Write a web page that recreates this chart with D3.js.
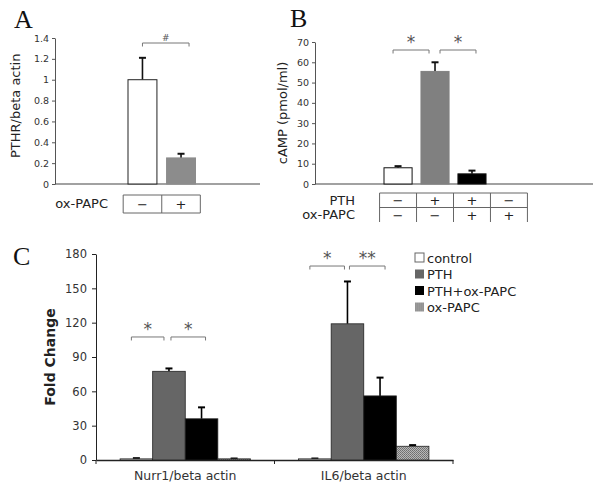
<!DOCTYPE html>
<html>
<head>
<meta charset="utf-8">
<script src="https://cdn.jsdelivr.net/npm/d3@7"></script>
<style>
	body { margin: 0; background: #fff; }
	svg { display: block; font-family: 'DejaVu Sans', Verdana, sans-serif; }
</style>
</head>
<body>
<div id="chart"></div>
<script>
// panel A: PTHR expression
const aConditions = ['ctl', 'ox']
const aOxRow = ['\u2212', '+']
const aValues = [1.0, 0.25]
const aErrors = [0.21, 0.04]
const aTicks = [0, 0.2, 0.4, 0.6, 0.8, 1, 1.2, 1.4]

// panel B: cAMP
const bConditions = ['ctl', 'pth', 'pthOx', 'ox']
const bPthRow = ['\u2212', '+', '+', '\u2212']
const bOxRow = ['\u2212', '\u2212', '+', '+']
const bValues = [8, 55.5, 5, 0]
const bErrors = [0.8, 4.5, 1.6, 0]
const bTicks = [0, 10, 20, 30, 40, 50, 60, 70]

// panel C: fold change
const cGroups = ['Nurr1/beta actin', 'IL6/beta actin']
const cSeries = ['control', 'PTH', 'PTH+ox-PAPC', 'ox-PAPC']
const nurr1Values = [1, 77.5, 36, 1]
const nurr1Errors = [0.6, 2.5, 10, 0.3]
const il6Values = [1, 119, 56, 12]
const il6Errors = [0.3, 37, 16, 1]
const cTicks = [0, 30, 60, 90, 120, 150, 180]

const width = 600
const height = 486

const svg = d3.select('#chart').append('svg').attr('width', width).attr('height', height)

const defs = svg.append('defs')
const pat = defs.append('pattern').attr('id', 'hatch').attr('patternUnits', 'userSpaceOnUse').attr('width', 2).attr('height', 2)
pat.append('rect').attr('width', 2).attr('height', 2).attr('fill', '#b8b8b8')
pat.append('rect').attr('width', 1).attr('height', 1).attr('fill', '#6e6e6e')
pat.append('rect').attr('x', 1).attr('y', 1).attr('width', 1).attr('height', 1).attr('fill', '#7a7a7a')

function panelLetter(x, y, t) {
	svg.append('text').attr('x', x).attr('y', y)
		.style('font-family', "'Liberation Serif', 'DejaVu Serif', serif")
		.style('font-size', '26px').attr('fill', '#111').text(t)
}

function errorBar(g, cx, yTop, yErr, color) {
	g.append('line').attr('x1', cx).attr('x2', cx).attr('y1', yTop).attr('y2', yErr)
		.attr('stroke', color).attr('stroke-width', 1.6)
	g.append('line').attr('x1', cx - 3.5).attr('x2', cx + 3.5).attr('y1', yErr).attr('y2', yErr)
		.attr('stroke', color).attr('stroke-width', 2)
}

function bracket(g, x1, x2, y, label, size) {
	g.append('path')
		.attr('d', `M${x1},${y + 3.5}V${y}H${x2}V${y + 3.5}`)
		.attr('fill', 'none').attr('stroke', '#777').attr('stroke-width', 1)
	g.append('text').attr('x', (x1 + x2) / 2).attr('y', y - 2)
		.attr('text-anchor', 'middle').attr('fill', '#555')
		.style('font-size', size).text(label)
}

function styleAxis(g, color, fontSize) {
	g.select('.domain').attr('stroke', color)
	g.selectAll('.tick line').attr('stroke', color)
	g.selectAll('.tick text').attr('fill', '#333').style('font-size', fontSize).style('font-family', "'DejaVu Sans', Verdana, sans-serif")
}

function tableCells(g, x, cols, rows, top, rowH, topBorder) {
	const step = x.step()
	const half = step / 2
	const left = x(cols[0]) + x.bandwidth() / 2 - half
	const right = x(cols[cols.length - 1]) + x.bandwidth() / 2 + half
	const bottom = top + rowH * rows.length
	if (topBorder) g.append('line').attr('x1', left).attr('x2', right).attr('y1', top).attr('y2', top).attr('stroke', '#666')
	rows.forEach((row, r) => {
		if (r > 0 || !topBorder) {
			g.append('line').attr('x1', left).attr('x2', right).attr('y1', top + r * rowH).attr('y2', top + r * rowH).attr('stroke', '#666')
		}
		cols.forEach((c, i) => {
			g.append('text').attr('x', x(c) + x.bandwidth() / 2).attr('y', top + r * rowH + rowH / 2 + 5)
				.attr('text-anchor', 'middle').attr('fill', '#222').style('font-size', '13px').text(row[i])
		})
	})
	cols.forEach((c, i) => {
		const xe = x(c) + x.bandwidth() / 2 - half
		g.append('line').attr('x1', xe).attr('x2', xe).attr('y1', top).attr('y2', bottom).attr('stroke', '#666')
	})
	g.append('line').attr('x1', right).attr('x2', right).attr('y1', top).attr('y2', bottom).attr('stroke', '#666')
	return { left, right, bottom }
}

// ---------- Panel A ----------
panelLetter(14, 28, 'A')
const gA = svg.append('g')
const yA = d3.scaleLinear().domain([0, 1.4]).range([184, 38])
const xA = d3.scaleBand().domain(aConditions).range([128, 195.5]).paddingInner(0.25).paddingOuter(0)

const yAxisA = gA.append('g').attr('transform', 'translate(55,0)')
	.call(d3.axisLeft(yA).tickValues(aTicks).tickSize(3).tickSizeOuter(0).tickFormat(d3.format('')))
styleAxis(yAxisA, '#555', '9.5px')
gA.append('line').attr('x1', 55).attr('x2', 260).attr('y1', yA(0)).attr('y2', yA(0)).attr('stroke', '#444').attr('stroke-width', 1.2)

const aColors = ['#fff', '#8c8c8c']
aConditions.forEach((c, i) => {
	const x0 = xA(c)
	const cx = x0 + xA.bandwidth() / 2
	errorBar(gA, cx, yA(aValues[i]), yA(aValues[i] + aErrors[i]), '#111')
	gA.append('rect').attr('x', x0).attr('y', yA(aValues[i])).attr('width', xA.bandwidth())
		.attr('height', yA(0) - yA(aValues[i])).attr('fill', aColors[i])
		.attr('stroke', i === 0 ? '#222' : '#8c8c8c').attr('stroke-width', 1)
})
bracket(gA, xA('ctl') + xA.bandwidth() / 2, xA('ox') + xA.bandwidth() / 2 + 8, 43, '#', '9px')

gA.append('text').attr('x', 20).attr('y', yA(0.75)).attr('transform', `rotate(-90,20,${yA(0.75)})`)
	.attr('text-anchor', 'middle').attr('fill', '#222').style('font-size', '13px').text('PTHR/beta actin')

const tA = tableCells(gA, xA, aConditions, [aOxRow], 195, 18, true)
gA.append('line').attr('x1', tA.left).attr('x2', tA.right).attr('y1', tA.bottom).attr('y2', tA.bottom).attr('stroke', '#666')
gA.append('text').attr('x', 108).attr('y', 208).attr('text-anchor', 'end').attr('fill', '#222').style('font-size', '13px').text('ox-PAPC')

// ---------- Panel B ----------
panelLetter(290, 27, 'B')
const gB = svg.append('g')
const yB = d3.scaleLinear().domain([0, 70]).range([184, 42])
const xB = d3.scaleBand().domain(bConditions).range([384, 523]).paddingInner(0.24).paddingOuter(0)

const yAxisB = gB.append('g').attr('transform', 'translate(315,0)')
	.call(d3.axisLeft(yB).tickValues(bTicks).tickSize(3).tickSizeOuter(0))
styleAxis(yAxisB, '#555', '9.5px')
gB.append('line').attr('x1', 315).attr('x2', 593).attr('y1', yB(0)).attr('y2', yB(0)).attr('stroke', '#444').attr('stroke-width', 1.2)

const bColors = ['#fff', '#808080', '#000', '#fff']
bConditions.forEach((c, i) => {
	if (bValues[i] <= 0) return
	const x0 = xB(c)
	const cx = x0 + xB.bandwidth() / 2
	errorBar(gB, cx, yB(bValues[i]), yB(bValues[i] + bErrors[i]), '#111')
	gB.append('rect').attr('x', x0).attr('y', yB(bValues[i])).attr('width', xB.bandwidth())
		.attr('height', yB(0) - yB(bValues[i])).attr('fill', bColors[i])
		.attr('stroke', i === 1 ? '#808080' : '#111').attr('stroke-width', 1)
})
const bcx = (c) => xB(c) + xB.bandwidth() / 2
bracket(gB, bcx('ctl') - 5, bcx('pth') - 6, 50, '*', '17px')
bracket(gB, bcx('pth') + 5, bcx('pthOx') + 4, 50, '*', '17px')

gB.append('text').attr('x', 287).attr('y', yB(35)).attr('transform', `rotate(-90,287,${yB(35)})`)
	.attr('text-anchor', 'middle').attr('fill', '#222').style('font-size', '13px').text('cAMP (pmol/ml)')

tableCells(gB, xB, bConditions, [bPthRow, bOxRow], 193, 14.5, true)
gB.append('text').attr('x', 355).attr('y', 205).attr('text-anchor', 'end').attr('fill', '#222').style('font-size', '13px').text('PTH')
gB.append('text').attr('x', 355).attr('y', 219).attr('text-anchor', 'end').attr('fill', '#222').style('font-size', '13px').text('ox-PAPC')

// ---------- Panel C ----------
panelLetter(13, 265, 'C')
const gC = svg.append('g')
const yC = d3.scaleLinear().domain([0, 180]).range([460, 254])
const x0C = d3.scaleBand().domain(cGroups).range([96, 453]).padding(0)
const x1C = d3.scaleBand().domain(cSeries).range([x0C.bandwidth() * 0.135, x0C.bandwidth() * 0.865]).padding(0)
const cFill = ['#fff', '#666', '#000', 'url(#hatch)']

const yAxisC = gC.append('g').attr('transform', 'translate(96,0)')
	.call(d3.axisLeft(yC).tickValues(cTicks).tickSize(4).tickSizeOuter(0))
styleAxis(yAxisC, '#222', '11.5px')
yAxisC.selectAll('.tick text').attr('x', -9)

const xAxisC = gC.append('g').attr('transform', `translate(0,${yC(0)})`)
	.call(d3.axisBottom(x0C).tickSize(0).tickPadding(11))
styleAxis(xAxisC, '#222', '12.5px')
xAxisC.select('.domain').attr('stroke-width', 1.4)
cGroups.forEach((g, i) => {
	const xe = i === 0 ? x0C(g) : x0C(g) + x0C.bandwidth()
	gC.append('line').attr('x1', xe).attr('x2', xe).attr('y1', yC(0)).attr('y2', yC(0) + 4).attr('stroke', '#222')
})
gC.append('line').attr('x1', x0C(cGroups[1])).attr('x2', x0C(cGroups[1])).attr('y1', yC(0)).attr('y2', yC(0) + 4).attr('stroke', '#222')

const groupData = [
	{ group: cGroups[0], values: nurr1Values, errors: nurr1Errors },
	{ group: cGroups[1], values: il6Values, errors: il6Errors }
]
groupData.forEach((gd) => {
	cSeries.forEach((s, i) => {
		const x0 = x0C(gd.group) + x1C(s)
		const cx = x0 + x1C.bandwidth() / 2
		errorBar(gC, cx, yC(gd.values[i]), yC(gd.values[i] + gd.errors[i]), '#000')
		gC.append('rect').attr('x', x0).attr('y', yC(gd.values[i])).attr('width', x1C.bandwidth())
			.attr('height', yC(0) - yC(gd.values[i])).attr('fill', cFill[i])
			.attr('stroke', '#222').attr('stroke-width', 0.8)
	})
})
const ccx = (g, s) => x0C(g) + x1C(s) + x1C.bandwidth() / 2
bracket(gC, ccx(cGroups[0], 'control') - 5, ccx(cGroups[0], 'PTH') - 5, yC(107.5), '*', '17px')
bracket(gC, ccx(cGroups[0], 'PTH') + 2, ccx(cGroups[0], 'PTH+ox-PAPC') + 4, yC(107.5), '*', '17px')
bracket(gC, ccx(cGroups[1], 'control') - 5, ccx(cGroups[1], 'PTH') - 3, yC(169.5), '*', '17px')
bracket(gC, ccx(cGroups[1], 'PTH') + 2, ccx(cGroups[1], 'PTH+ox-PAPC') + 5, yC(169.5), '**', '17px')

gC.append('text').attr('x', 55).attr('y', yC(90)).attr('transform', `rotate(-90,55,${yC(90)})`)
	.attr('text-anchor', 'middle').attr('fill', '#222').style('font-size', '14px').style('font-weight', 'bold').text('Fold Change')

const legend = gC.append('g').attr('transform', 'translate(415,253)')
cSeries.forEach((s, i) => {
	const row = legend.append('g').attr('transform', `translate(0,${i * 16.5})`)
	row.append('rect').attr('width', 9).attr('height', 9).attr('fill', cFill[i]).attr('stroke', i === 0 ? '#666' : 'none')
	row.append('text').attr('x', 12).attr('y', 9.5).attr('fill', '#222').style('font-size', '13px').text(s)
})
</script>
</body>
</html>
